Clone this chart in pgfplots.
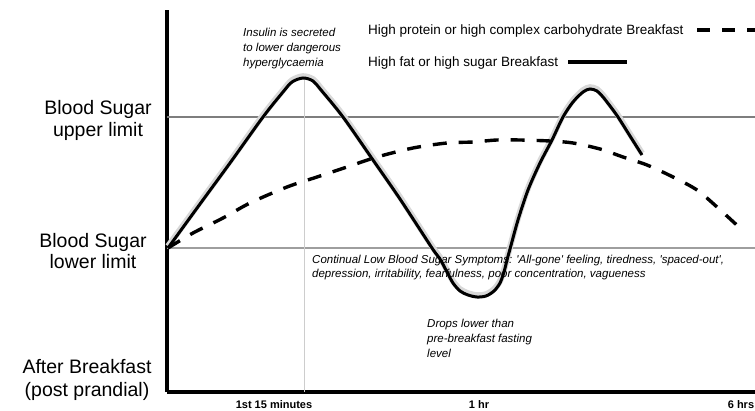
\documentclass[border=0pt]{standalone}
\usepackage{fontspec}
\setmainfont{Liberation Sans}[Ligatures=TeXOff]
\usepackage{pgfplots}
\pgfplotsset{compat=1.18}
\definecolor{upperline}{HTML}{7E7E7E}
\definecolor{lowerline}{HTML}{9E9E9E}
\definecolor{vline}{HTML}{CDCDCD}
\definecolor{halo}{HTML}{D8D8D8}
\begin{document}
\begin{tikzpicture}
\useasboundingbox (-167pt,-18pt) rectangle (588pt,392pt);
\begin{axis}[
  scale only axis, width=588pt, height=382pt,
  xmin=167, xmax=755, ymin=18, ymax=400,
  axis lines*=left,
  axis line style={line width=3.3pt, black},
  xtick=\empty, ytick=\empty,
  clip=false,
]
% limit lines and 15-minute marker
\addplot[upperline, line width=2.6pt] coordinates {(167,293) (755,293)};
\addplot[lowerline, line width=2.6pt] coordinates {(167,162) (755,162)};
\addplot[vline, line width=0.9pt] coordinates {(304,332) (304,18)};
% photocopy halo of the solid curve
\addplot[halo, line width=6pt, smooth, tension=0.5, yshift=1.8pt] coordinates {
 (168,162) (200,206) (230,247) (263,293) (283,318) (292,328) (303,332) (313,329) (321,320)
 (343,293) (373,250) (400,211) (432,162) (440,151) (447,138) (453,127) (460,119) (468,115)
 (477,113) (486,114) (494,119) (500,127) (504,138) (507,150) (510,161) (518,190) (528,220)
 (540,247) (552,270) (563,293) (573,308) (583,318) (590,321) (597,319) (603,313) (610,304)
 (618,293) (630,274) (642,255)};
% high protein / complex carbohydrate breakfast (dashed)
\addplot[black, line width=3.4pt, dash pattern=on 14pt off 12pt, smooth, tension=0.5] coordinates {
 (168,162) (193,177) (223,192) (250,207) (287,223) (317,233) (347,243) (377,253) (413,262)
 (447,267) (473,268) (497,270) (520,270) (550,269) (573,267) (600,261) (623,253) (647,245)
 (673,233) (697,220) (717,203) (740,182)};
% high fat / high sugar breakfast (solid)
\addplot[black, line width=3pt, smooth, tension=0.5] coordinates {
 (168,162) (200,206) (230,247) (263,293) (283,318) (292,328) (303,332) (313,329) (321,320)
 (343,293) (373,250) (400,211) (432,162) (440,151) (447,138) (453,127) (460,119) (468,115)
 (477,113) (486,114) (494,119) (500,127) (504,138) (507,150) (510,161) (518,190) (528,220)
 (540,247) (552,270) (563,293) (573,308) (583,318) (590,321) (597,319) (603,313) (610,304)
 (618,293) (630,274) (642,255)};
% legend samples
\addplot[black, line width=3.6pt, dash pattern=on 13pt off 12pt] coordinates {(697,380) (775,380)};
\addplot[black, line width=3.6pt] coordinates {(568,348) (627,348)};
% legend texts
\node[anchor=base west, inner sep=0, font=\fontsize{13.5}{16}\selectfont] at (axis cs:368,375) {High protein or high complex carbohydrate Breakfast};
\node[anchor=base west, inner sep=0, font=\fontsize{13.5}{16}\selectfont] at (axis cs:368,343) {High fat or high sugar Breakfast};
% annotations
\begin{scope}[every node/.style={anchor=base west, inner sep=0, font=\itshape\fontsize{11.5}{14}\selectfont}]
\node at (axis cs:243,373) {Insulin is secreted};
\node at (axis cs:243,358) {to lower dangerous};
\node at (axis cs:243,343) {hyperglycaemia};
\node at (axis cs:312,147) {Continual Low Blood Sugar Symptoms: 'All-gone' feeling, tiredness, 'spaced-out',};
\node at (axis cs:312,133) {depression, irritability, fearfulness, poor concentration, vagueness};
\node at (axis cs:427,83) {Drops lower than};
\node at (axis cs:427,68) {pre-breakfast fasting};
\node at (axis cs:427,53) {level};
\end{scope}
% left labels
\begin{scope}[every node/.style={anchor=base, inner sep=0, font=\fontsize{19.5}{23}\selectfont}]
\node at (axis cs:98,295) {Blood Sugar};
\node at (axis cs:98,273) {upper limit};
\node at (axis cs:93,163) {Blood Sugar};
\node at (axis cs:93,142) {lower limit};
\node at (axis cs:87,37) {After Breakfast};
\node at (axis cs:87,14) {(post prandial)};
\end{scope}
% time labels
\begin{scope}[every node/.style={anchor=base, inner sep=0, font=\bfseries\fontsize{11}{13}\selectfont}]
\node at (axis cs:274,1.5) {1st 15 minutes};
\node at (axis cs:479,1.5) {1 hr};
\node at (axis cs:741,1.5) {6 hrs};
\end{scope}
\end{axis}
\end{tikzpicture}
\end{document}
